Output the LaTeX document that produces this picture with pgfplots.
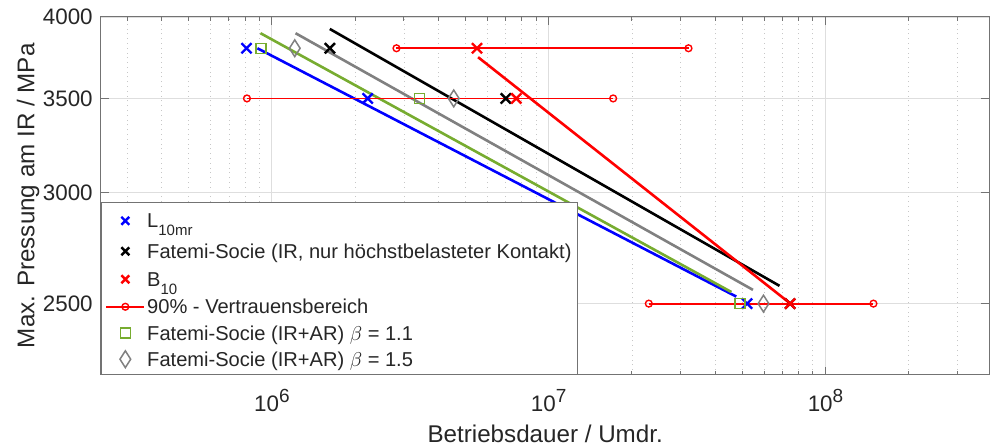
\documentclass[border=0pt]{standalone}
\usepackage{pgfplots}
\pgfplotsset{compat=1.18}
\usepackage{fontspec}
\setmainfont{Liberation Sans}

\definecolor{axgray}{gray}{0.45}
\definecolor{txt}{gray}{0.15}
\definecolor{mred}{rgb}{1,0,0}
\definecolor{mgreen}{rgb}{0.466,0.674,0.188}
\definecolor{mgray}{rgb}{0.5,0.5,0.5}
\definecolor{gridmaj}{gray}{0.87}
\definecolor{gridmin}{gray}{0.78}

% 10^k tick labels set in the text font
\newcommand\tpow[1]{10\raisebox{4.5pt}{\fontsize{9.5}{10}\selectfont #1}}
\newcommand\lsub[1]{\raisebox{-4pt}{\fontsize{7.5}{8}\selectfont #1}}

\pgfplotsset{
  ciline/.style={mred, line width=0.9pt, mark=o, mark size=1.7pt, mark options={line width=0.7pt}},
  xmk/.style={only marks, mark=x, mark size=3.6pt, line width=1.2pt},
  sqmk/.style={only marks, mark=square, mgreen, mark size=2.5pt, line width=0.75pt},
  dmmk/.style={only marks, mark=diamond, mgray, mark size=4.2pt, mark options={xscale=0.85}, line width=0.75pt},
  fitline/.style={line width=1.3pt, forget plot},
}
% legend row heights (text height - depth kept at 7.2pt so marks sit at cap height centre)
\tikzset{
  rowA/.style={text height=9.83pt, text depth=2.63pt},
  rowB/.style={text height=8.58pt, text depth=1.38pt},
  rowC/.style={text height=8.33pt, text depth=1.13pt},
  rowD/.style={text height=8.08pt, text depth=0.88pt},
}

\begin{document}
\begin{tikzpicture}
\useasboundingbox (-50.5pt,-36.5pt) rectangle (444.8pt,187.5pt);
\begin{axis}[
  scale only axis, width=444.5pt, height=179pt,
  xmode=log, ymode=log,
  xmin=2.414e5, xmax=3.91e8, ymin=2225, ymax=4000,
  xtick={1e6,1e7,1e8},
  xticklabels={\tpow{6},\tpow{7},\tpow{8}},
  minor xtick={3e5,4e5,5e5,6e5,7e5,8e5,9e5,2e6,3e6,4e6,5e6,6e6,7e6,8e6,9e6,2e7,3e7,4e7,5e7,6e7,7e7,8e7,9e7,2e8,3e8},
  ytick={2500,3000,3500,4000},
  yticklabels={2500,3000,3500,4000},
  minor ytick={},
  xmajorgrids, xminorgrids, ymajorgrids,
  major grid style={gridmaj, line width=0.4pt},
  minor grid style={gridmin, dotted, line width=0.4pt},
  axis line style={axgray, line width=0.5pt},
  every tick/.style={axgray, line width=0.5pt},
  major tick length=4pt, minor tick length=2pt,
  tick align=inside,
  xticklabel style={anchor=base, yshift=-18.5pt, font=\fontsize{11.2}{13}\selectfont, text=txt},
  yticklabel style={anchor=east, xshift=-0.6pt, font=\fontsize{11.2}{13}\selectfont, text=txt},
  every axis x label/.style={at={(axis description cs:0.5,0)}, anchor=base, yshift=-34pt,
    font=\fontsize{12.1}{14}\selectfont, text=txt},
  every axis y label/.style={at={(axis description cs:-0.0821,0.5)}, rotate=90, anchor=center,
    font=\fontsize{12.1}{14}\selectfont, text=txt},
  xlabel={Betriebsdauer / Umdr.},
  ylabel={Max. Pressung am IR / MPa},
  legend image code/.code={\draw[mark repeat=2, mark phase=2, #1]
    plot coordinates {(0pt,0pt) (9.5pt,0pt) (19pt,0pt)};},
  legend cell align=left,
  legend style={at={(0,0)}, anchor=south west,
    draw=axgray, line width=0.5pt, fill=white,
    font=\fontsize{10.05}{12}\selectfont, text=txt,
    inner xsep=2pt, inner ysep=1pt,
    nodes={inner xsep=1pt, inner ysep=2.02pt, text height=8.58pt, text depth=1.38pt}},
]
% fitted lines
\addplot[blue, fitline] coordinates {(8.867e5,3800) (4.76e7,2529)};
\addplot[mgreen, fitline] coordinates {(9.10e5,3895) (4.57e7,2548)};
\addplot[mgray, fitline] coordinates {(1.218e6,3895) (5.47e7,2557)};
\addplot[black, fitline] coordinates {(1.62e6,3922) (6.82e7,2574)};
\addplot[mred, fitline] coordinates {(5.56e6,3745) (7.47e7,2500)};

% lifetimes at the three load levels
\addplot[xmk, blue, forget plot]  coordinates {(8.1e5,3800) (2.22e6,3500) (5.21e7,2500)};
\addplot[xmk, black, forget plot] coordinates {(1.62e6,3800) (7.0e6,3500) (7.45e7,2500)};
\addplot[xmk, mred, forget plot]  coordinates {(5.51e6,3800) (7.64e6,3500) (7.45e7,2500)};
\addplot[sqmk, forget plot] coordinates {(9.13e5,3800) (3.42e6,3500) (4.92e7,2500)};
\addplot[dmmk, forget plot] coordinates {(1.21e6,3800) (4.54e6,3500) (5.97e7,2500)};

% 90% confidence intervals, on top of the marks
\addplot[ciline, forget plot] coordinates {(8.13e5,3500) (1.71e7,3500)};
\addplot[ciline, forget plot] coordinates {(2.82e6,3800) (3.2e7,3800)};
\addplot[ciline, forget plot] coordinates {(2.30e7,2500) (1.49e8,2500)};

% legend
\addlegendimage{xmk, blue, mark size=2.8pt}
\addlegendentry[rowA]{L\lsub{10mr}}
\addlegendimage{xmk, black, mark size=2.8pt}
\addlegendentry[rowB]{Fatemi-Socie (IR, nur höchstbelasteter Kontakt)}
\addlegendimage{xmk, mred, mark size=2.8pt}
\addlegendentry[rowB]{B\lsub{10}}
\addlegendimage{ciline}
\addlegendentry[rowC]{90\% - Vertrauensbereich}
\addlegendimage{sqmk}
\addlegendentry[rowD]{Fatemi-Socie (IR+AR) $\beta$ = 1.1}
\addlegendimage{dmmk}
\addlegendentry[rowD]{Fatemi-Socie (IR+AR) $\beta$ = 1.5}
\end{axis}
\end{tikzpicture}
\end{document}
